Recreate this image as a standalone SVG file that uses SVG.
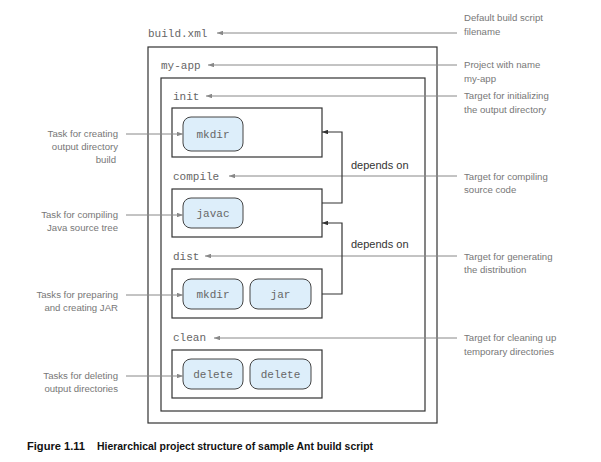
<svg xmlns="http://www.w3.org/2000/svg" width="601" height="462" viewBox="0 0 601 462">
<style>
.box{fill:none;stroke:#333;stroke-width:1.2}
.task{fill:#ddeefa;stroke:#444;stroke-width:1}
.mono{font-family:"Liberation Mono","Courier New",monospace;font-size:11px;fill:#666}
.tt{font-family:"Liberation Mono","Courier New",monospace;font-size:11px;fill:#666;text-anchor:middle}
.note{font-family:"Liberation Sans",Arial,sans-serif;font-size:9.6px;fill:#777}
.lnote{font-family:"Liberation Sans",Arial,sans-serif;font-size:9.6px;fill:#777;text-anchor:end}
.dep{font-family:"Liberation Sans",Arial,sans-serif;font-size:11px;fill:#333}
.ptr{fill:none;stroke:#888;stroke-width:1;marker-end:url(#ah)}
.dl{fill:none;stroke:#333;stroke-width:1.2;marker-end:url(#ad)}
.cap{font-family:"Liberation Sans",Arial,sans-serif;font-size:10.5px;font-weight:bold;fill:#111}
</style>
<defs>
<marker id="ah" viewBox="0 0 8 6" refX="8" refY="3" markerWidth="6" markerHeight="4.5" orient="auto" markerUnits="userSpaceOnUse"><path d="M0,0 L8,3 L0,6 z" fill="#888"/></marker>
<marker id="ad" viewBox="0 0 8 6" refX="8" refY="3" markerWidth="6" markerHeight="4.5" orient="auto" markerUnits="userSpaceOnUse"><path d="M0,0 L8,3 L0,6 z" fill="#333"/></marker>
</defs>
<rect width="601" height="462" fill="#fff"/>

<g id="build-xml">
<text class="mono" x="148" y="37">build.xml</text>
<rect class="box" x="148" y="47" width="289" height="376"/>
</g>
<g id="my-app">
<text class="mono" x="161" y="69">my-app</text>
<rect class="box" x="161" y="78" width="264" height="333"/>
</g>
<g id="init">
<text class="mono" x="173" y="100">init</text>
<rect class="box" x="172" y="108" width="150" height="49"/>
<g id="init-mkdir"><rect class="task" x="183" y="117" width="60" height="34" rx="8"/><text class="tt" x="213" y="138">mkdir</text></g>
</g>
<g id="compile">
<text class="mono" x="173" y="180">compile</text>
<rect class="box" x="172" y="189" width="150" height="48"/>
<g id="compile-javac"><rect class="task" x="183" y="198" width="60" height="30" rx="8"/><text class="tt" x="213" y="217">javac</text></g>
</g>
<g id="dist">
<text class="mono" x="173" y="260">dist</text>
<rect class="box" x="172" y="269" width="150" height="49"/>
<g id="dist-mkdir"><rect class="task" x="183" y="279" width="60" height="30" rx="8"/><text class="tt" x="213" y="298">mkdir</text></g>
<g id="dist-jar"><rect class="task" x="250" y="279" width="61" height="30" rx="8"/><text class="tt" x="280.5" y="298">jar</text></g>
</g>
<g id="clean">
<text class="mono" x="173" y="341">clean</text>
<rect class="box" x="172" y="350" width="150" height="48"/>
<g id="clean-delete1"><rect class="task" x="183" y="359" width="60" height="30" rx="8"/><text class="tt" x="213" y="378">delete</text></g>
<g id="clean-delete2"><rect class="task" x="250" y="359" width="61" height="30" rx="8"/><text class="tt" x="280.5" y="378">delete</text></g>
</g>

<g id="notes-right">
<text class="note" x="464" y="21">Default build script</text>
<text class="note" x="464" y="35">filename</text>
<text class="note" x="464" y="68">Project with name</text>
<text class="note" x="464" y="82">my-app</text>
<text class="note" x="464" y="99">Target for initializing</text>
<text class="note" x="464" y="113">the output directory</text>
<text class="note" x="464" y="180">Target for compiling</text>
<text class="note" x="464" y="193">source code</text>
<text class="note" x="464" y="260">Target for generating</text>
<text class="note" x="464" y="273">the distribution</text>
<text class="note" x="464" y="341">Target for cleaning up</text>
<text class="note" x="464" y="355">temporary directories</text>
</g>
<g id="notes-left">
<text class="lnote" x="118" y="137">Task for creating</text>
<text class="lnote" x="118" y="150">output directory</text>
<text class="lnote" x="116" y="163">build</text>
<text class="lnote" x="118" y="218">Task for compiling</text>
<text class="lnote" x="118" y="231">Java source tree</text>
<text class="lnote" x="118" y="298">Tasks for preparing</text>
<text class="lnote" x="118" y="311">and creating JAR</text>
<text class="lnote" x="118" y="379">Tasks for deleting</text>
<text class="lnote" x="118" y="392">output directories</text>
</g>

<g id="connectors">
<path class="ptr" d="M457,33 H217"/>
<path class="ptr" d="M457,65 H208"/>
<path class="ptr" d="M457,96 H206"/>
<path class="ptr" d="M457,176 H229"/>
<path class="ptr" d="M457,256 H205"/>
<path class="ptr" d="M457,338 H214"/>
<path class="ptr" d="M126,134 H183"/>
<path class="ptr" d="M126,215 H183"/>
<path class="ptr" d="M126,295 H183"/>
<path class="ptr" d="M126,376 H183"/>
<path class="dl" d="M322,203 H342 V132 H322"/>
<path class="dl" d="M322,294 H342 V223 H322"/>
<text class="dep" x="351" y="169">depends on</text>
<text class="dep" x="351" y="248">depends on</text>
</g>

<text class="cap" x="27" y="450"><tspan textLength="58" lengthAdjust="spacingAndGlyphs">Figure 1.11</tspan><tspan x="97" textLength="276" lengthAdjust="spacingAndGlyphs">Hierarchical project structure of sample Ant build script</tspan></text>
</svg>
